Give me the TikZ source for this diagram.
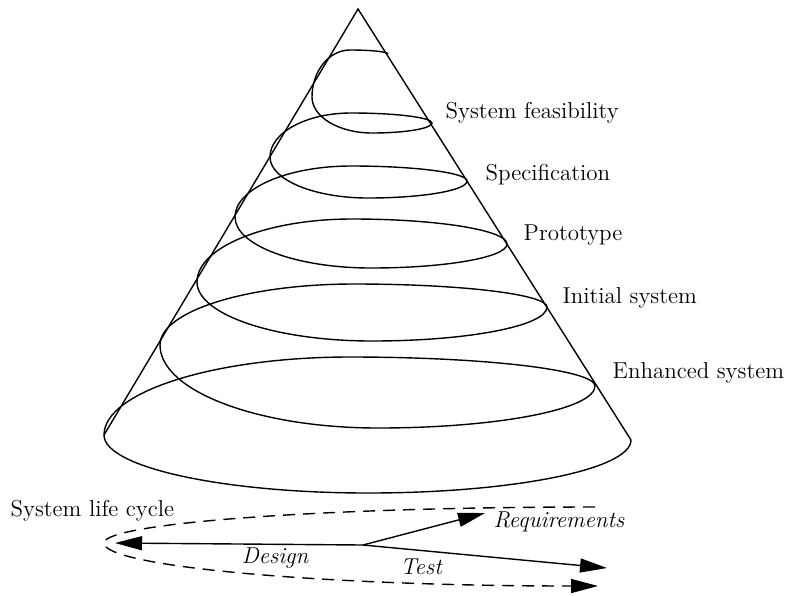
\documentclass[tikz,border=0pt]{standalone}
\usetikzlibrary{arrows.meta,positioning}

\begin{document}
\begin{tikzpicture}[x=0.5pt, y=-0.5pt, line width=0.7pt,
    stage/.style={anchor=west, inner sep=0pt, font=\fontsize{11.5}{14}\selectfont},
    activity/.style={inner sep=0pt, font=\fontsize{11.5}{14}\selectfont\itshape},
    flow/.style={-{Triangle[length=13.5pt,width=7pt]}},
    loopline/.style={dash pattern=on 6pt off 4pt}]
  \useasboundingbox (0,0) rectangle (796,595);
  % ---------------- cone ----------------
  \coordinate (apex) at (358,9);
  \coordinate (baseL) at (104,435);
  \coordinate (baseR) at (631,440);
  \draw (baseL) -- (apex) -- (baseR);
  % ---------------- spiral ----------------
  \draw (388,54)
    arc[start angle=0,end angle=-90,x radius=38,y radius=4]
    arc[start angle=-90,end angle=-180,x radius=38,y radius=47]
    arc[start angle=180,end angle=90,x radius=60,y radius=36]
    arc[start angle=90,end angle=0,x radius=60,y radius=10]
    arc[start angle=0,end angle=-90,x radius=81,y radius=10]
    arc[start angle=-90,end angle=-180,x radius=81,y radius=44]
    arc[start angle=180,end angle=90,x radius=98,y radius=41]
    arc[start angle=90,end angle=0,x radius=99,y radius=17]
    arc[start angle=0,end angle=-90,x radius=116,y radius=15]
    arc[start angle=-90,end angle=-180,x radius=116,y radius=51]
    arc[start angle=180,end angle=90,x radius=136,y radius=51]
    arc[start angle=90,end angle=0,x radius=136,y radius=24]
    arc[start angle=0,end angle=-90,x radius=155,y radius=25]
    arc[start angle=-90,end angle=-180,x radius=155,y radius=63]
    arc[start angle=180,end angle=90,x radius=175,y radius=59]
    arc[start angle=90,end angle=0,x radius=175,y radius=34]
    arc[start angle=0,end angle=-90,x radius=193,y radius=23]
    arc[start angle=-90,end angle=-180,x radius=194,y radius=61]
    arc[start angle=180,end angle=90,x radius=218,y radius=83]
    arc[start angle=90,end angle=0,x radius=217,y radius=42]
    arc[start angle=0,end angle=-90,x radius=245,y radius=29]
    arc[start angle=-90,end angle=-180,x radius=246,y radius=78]
    arc[start angle=180,end angle=90,x radius=264,y radius=58]
    arc[start angle=90,end angle=0,x radius=263,y radius=53];
  \node[stage] (feas) at (445,113) {System feasibility};
  \node[stage] (spec) at (485,175) {Specification};
  \node[stage] (proto) at (523,235) {Prototype};
  \node[stage] (initial) at (562,298) {Initial system};
  \node[stage] (enhanced) at (612,373) {Enhanced system};
  % ---------------- life cycle ----------------
  \node[stage, anchor=base west] (cycle) at (10,516) {System life cycle};
  \draw[loopline, flow] (595,507)
    arc[start angle=-90,end angle=-180,x radius=491,y radius=36]
    arc[start angle=180,end angle=90,x radius=494,y radius=43];
  \coordinate (hub) at (363,545);
  \coordinate (designtip) at (115,543);
  \coordinate (reqtip) at (485,513);
  \coordinate (testtip) at (607,568);
  \draw[flow] (hub) -- (designtip);
  \draw[flow] (hub) -- (reqtip);
  \draw[flow] (hub) -- (testtip);
  \node[activity, anchor=west] (req) at (493,522) {Requirements};
  \node[activity] (design) at (275,558) {Design};
  \node[activity] (test) at (421,567) {Test};
\end{tikzpicture}
\end{document}
